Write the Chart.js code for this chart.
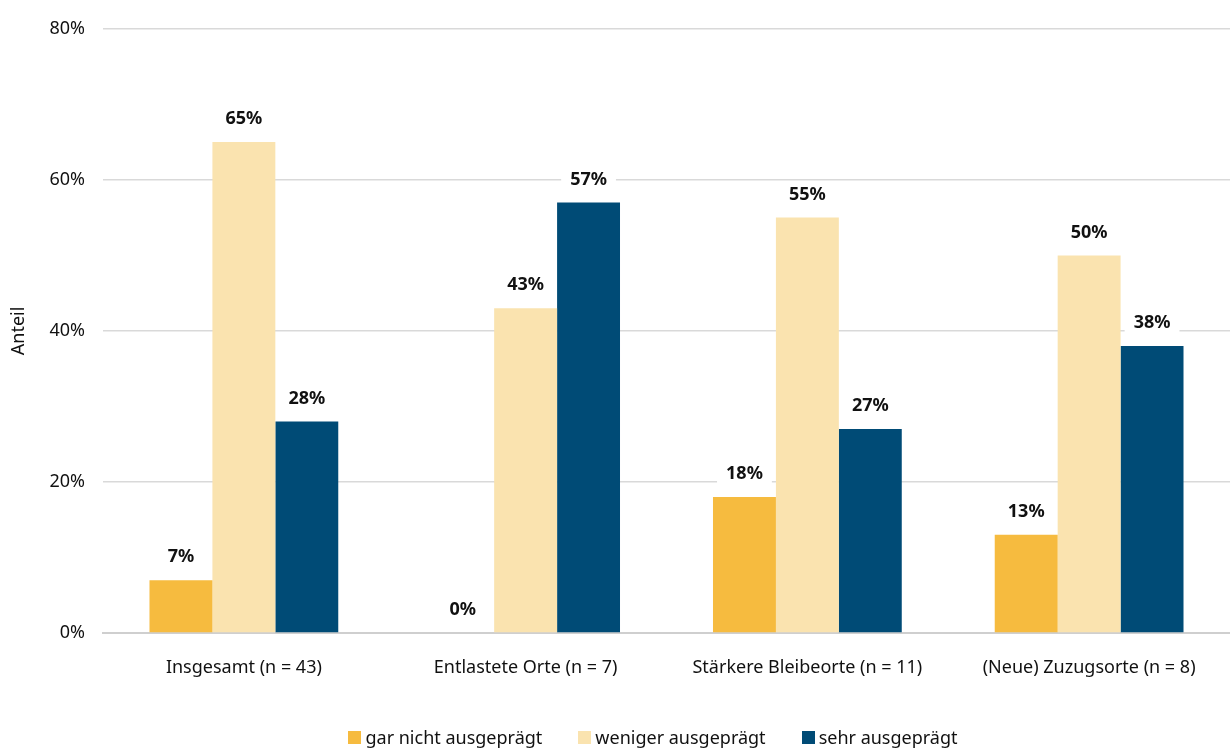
<!DOCTYPE html>
<html lang="de">
<head>
<meta charset="utf-8">
<title>Anteil nach Ortstyp</title>
<script src="https://cdn.jsdelivr.net/npm/chart.js@4/dist/chart.umd.min.js"></script>
<style>
    html, body { margin: 0; padding: 0; background: #fff; }
    .chart-wrap { position: relative; width: 1230px; height: 749px; }
    .legend {
        position: absolute; left: 76px; right: 0; top: 724px;
        display: flex; justify-content: center; gap: 36px;
        font: 18px 'Noto Sans', sans-serif; color: #111; line-height: 26px;
    }
    .legend-item { display: flex; align-items: center; }
    .legend-box { width: 13px; height: 13px; margin-right: 4px; }
</style>
</head>
<body>
<div class="chart-wrap">
    <canvas id="chart"></canvas>
    <div class="legend" id="legend"></div>
</div>
<script>
// Data
const categories = ['Insgesamt (n = 43)', 'Entlastete Orte (n = 7)', 'Stärkere Bleibeorte (n = 11)', '(Neue) Zuzugsorte (n = 8)'];
const seriesNames = ['gar nicht ausgeprägt', 'weniger ausgeprägt', 'sehr ausgeprägt'];
const garNicht = [7, 0, 18, 13];
const weniger = [65, 43, 55, 50];
const sehr = [28, 57, 27, 38];
const yTicks = [0, 20, 40, 60, 80];

const COLORS = ['#f6bb3f', '#fae3af', '#004b76'];
const FONT = "'Noto Sans', sans-serif";

// Value labels with white box behind them
const valueLabels = {
    id: 'valueLabels',
    afterDatasetsDraw(chart) {
        const ctx = chart.ctx;
        ctx.save();
        ctx.font = `bold 18px ${FONT}`;
        ctx.textAlign = 'center';
        ctx.textBaseline = 'middle';
        chart.data.datasets.forEach((ds, i) => {
            chart.getDatasetMeta(i).data.forEach((bar, j) => {
                const text = ds.data[j] + '%';
                const y = bar.y - 23;
                const w = ctx.measureText(text).width + 18;
                ctx.fillStyle = '#fff';
                ctx.fillRect(bar.x - w / 2, y - 11, w, 22);
                ctx.fillStyle = '#111';
                ctx.fillText(text, bar.x, y);
            });
        });
        ctx.restore();
    }
};

const chart = new Chart(document.getElementById('chart').getContext('2d'), {
    type: 'bar',
    data: {
        labels: categories,
        datasets: [garNicht, weniger, sehr].map((d, i) => ({
            label: seriesNames[i],
            data: d,
            backgroundColor: COLORS[i],
            borderWidth: 0,
            categoryPercentage: 0.67,
            barPercentage: 1.0
        }))
    },
    options: {
        responsive: true,
        maintainAspectRatio: false,
        animation: false,
        layout: { padding: { top: 9, right: 0, bottom: 53, left: 2 } },
        plugins: {
            tooltip: { enabled: false },
            legend: { display: false }
        },
        scales: {
            x: {
                grid: { display: false },
                border: { color: '#cfcfcf', width: 2 },
                ticks: { font: { family: FONT, size: 18 }, color: '#111', padding: 16 },
                afterFit: scale => { scale.height = 63; }
            },
            y: {
                min: 0,
                max: 80,
                afterBuildTicks: scale => { scale.ticks = yTicks.map(v => ({ value: v })); },
                afterFit: scale => { scale.width = 101; },
                grid: { color: '#d9d9d9', lineWidth: 1.5, drawTicks: false },
                border: { display: false },
                ticks: {
                    font: { family: FONT, size: 18 },
                    color: '#111',
                    padding: 18,
                    callback: v => v + '%'
                },
                title: {
                    display: true,
                    text: 'Anteil',
                    font: { family: FONT, size: 18 },
                    color: '#111',
                    padding: { top: 6, bottom: 0 }
                }
            }
        }
    },
    plugins: [valueLabels]
});

// Legend built from the chart's datasets
const legendEl = document.getElementById('legend');
chart.data.datasets.forEach(ds => {
    const item = document.createElement('div');
    item.className = 'legend-item';
    item.innerHTML = `<span class="legend-box" style="background:${ds.backgroundColor}"></span>${ds.label}`;
    legendEl.appendChild(item);
});
</script>
</body>
</html>
